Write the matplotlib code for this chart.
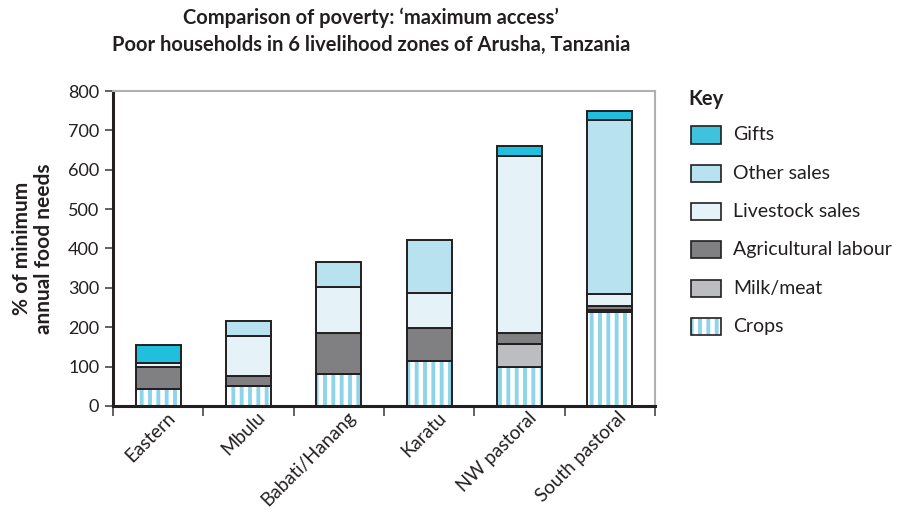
import matplotlib
matplotlib.use("Agg")
import matplotlib.pyplot as plt
import matplotlib.patches as mpatches
import matplotlib.transforms as mtransforms
import numpy as np

plt.rcParams['font.family'] = ['Lato', 'DejaVu Sans']
plt.rcParams['hatch.linewidth'] = 3.2

zones = ["Eastern", "Mbulu", "Babati/Hanang", "Karatu", "NW pastoral", "South pastoral"]

# % of minimum annual food needs, bottom to top of each stack
crops = [44, 51, 81, 115, 99, 239]
milk_meat = [0, 0, 0, 0, 58, 6]
agri_labour = [56, 25, 104, 84, 29, 9]
livestock_sales = [8, 102, 116, 87, 449, 31]
other_sales = [0, 39, 65, 135, 0, 441]
gifts = [48, 0, 0, 0, 25, 22]

edge = '#231f20'
stripe = '#8ed4e8'
layers = [
    ("Milk/meat", milk_meat, '#bcbdc0'),
    ("Agricultural labour", agri_labour, '#808083'),
    ("Livestock sales", livestock_sales, '#e5f3f9'),
    ("Other sales", other_sales, '#b9e2f0'),
    ("Gifts", gifts, '#1fbfdd'),
]

fig = plt.figure(figsize=(9, 5.15), dpi=100)
ax = fig.add_axes([0.1256, 0.2117, 0.6022, 0.6116])

x = np.arange(len(zones))
w = 0.5

# crops: blue vertical stripes
ax.bar(x, crops, w, color=stripe, edgecolor='white', hatch='||', linewidth=0, zorder=2)
ax.bar(x, crops, w, fill=False, edgecolor=edge, linewidth=1.4, zorder=3)

bottom = np.array(crops, dtype=float)
for name, vals, col in layers:
    vals = np.array(vals, dtype=float)
    m = vals > 0
    ax.bar(x[m], vals[m], w, bottom=bottom[m], color=col, edgecolor=edge, linewidth=1.4, zorder=3)
    bottom += vals

ax.set_xlim(-0.5, 5.5)
ax.set_ylim(0, 800)
ax.set_yticks(np.arange(0, 801, 100))
ax.tick_params(axis='y', direction='out', length=6, width=1.3, color='#555555',
               labelsize=13, pad=4, labelcolor=edge)
ax.set_xticks(x)
ax.set_xticklabels(zones, rotation=45, ha='right', rotation_mode='anchor', fontsize=13.5, color=edge)
ax.tick_params(axis='x', which='major', length=0, pad=2)
shift = mtransforms.ScaledTranslation(8 / 100, 0, fig.dpi_scale_trans)
for lbl in ax.get_xticklabels():
    lbl.set_transform(lbl.get_transform() + shift)
ax.set_xticks(np.arange(-0.5, 6, 1), minor=True)
ax.tick_params(axis='x', which='minor', direction='out', length=7, width=1.3, color='#555555')

for s in ['left', 'bottom']:
    ax.spines[s].set_color(edge)
    ax.spines[s].set_linewidth(2.2)
for s in ['top', 'right']:
    ax.spines[s].set_color('#b0b0b0')
    ax.spines[s].set_linewidth(1.5)

ax.set_ylabel("% of minimum\nannual food needs", fontsize=15, fontweight='bold',
              color=edge, labelpad=10, linespacing=1.1)

fig.text(0.412, 0.965, "Comparison of poverty: \u2018maximum access\u2019", ha='center', va='center',
         fontsize=14.5, fontweight='bold', color=edge)
fig.text(0.412, 0.913, "Poor households in 6 livelihood zones of Arusha, Tanzania", ha='center',
         va='center', fontsize=14.5, fontweight='bold', color=edge)

# key
fig.text(688 / 900, 1 - 99 / 515, "Key", ha='left', va='center', fontsize=14.5,
         fontweight='bold', color=edge)
key = [("Gifts", '#3fc2dd', None), ("Other sales", '#b9e2f0', None),
       ("Livestock sales", '#e5f3f9', None), ("Agricultural labour", '#808083', None),
       ("Milk/meat", '#bcbdc0', None), ("Crops", stripe, '||')]
for i, (lab, col, h) in enumerate(key):
    yc = 135 + i * 38.3
    x0, y0 = 691 / 900, 1 - (yc + 8.5) / 515
    if h:
        fig.patches.append(mpatches.Rectangle((x0, y0), 30 / 900, 17 / 515, transform=fig.transFigure,
                                              facecolor=col, edgecolor='white', hatch=h, linewidth=0))
        fig.patches.append(mpatches.Rectangle((x0, y0), 30 / 900, 17 / 515, transform=fig.transFigure,
                                              fill=False, edgecolor=edge, linewidth=1.2))
    else:
        fig.patches.append(mpatches.Rectangle((x0, y0), 30 / 900, 17 / 515, transform=fig.transFigure,
                                              facecolor=col, edgecolor=edge, linewidth=1.2))
    fig.text(733 / 900, 1 - yc / 515, lab, ha='left', va='center', fontsize=14, color=edge)

fig.savefig("out.png", dpi=100)
